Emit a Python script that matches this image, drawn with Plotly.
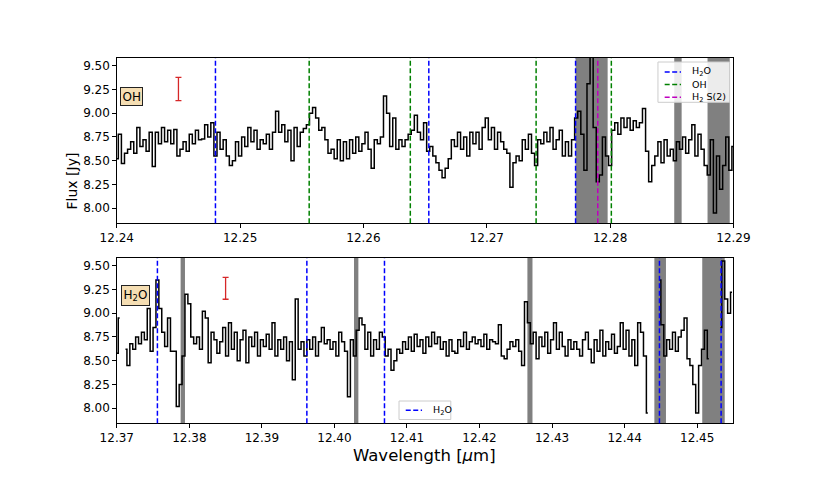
import plotly.graph_objects as go

# ---------------- data ----------------
# top panel spectrum (uniform spectral grid)
top_wl_start = 12.24
top_wl_step = 0.00025
top_flux = [
    8.52, 8.78, 8.47, 8.58, 8.62, 8.70, 8.58, 8.85, 8.65, 8.72,
    8.60, 8.80, 8.44, 8.80, 8.68, 8.85, 8.70, 8.82, 8.68, 8.83,
    8.55, 8.62, 8.70, 8.60, 8.78, 8.68, 8.82, 8.72, 8.73, 8.88,
    8.75, 8.90, 8.55, 8.80, 8.62, 8.72, 8.55, 8.45, 8.50, 8.70,
    8.55, 8.75, 8.65, 8.85, 8.70, 8.82, 8.62, 8.72, 8.68, 8.78,
    8.62, 8.80, 9.02, 8.80, 8.88, 8.70, 8.82, 8.50, 8.85, 8.65,
    8.80, 8.84, 8.88, 9.00, 9.06, 8.95, 8.82, 8.85, 8.72, 8.58,
    8.62, 8.52, 8.72, 8.50,
    8.70, 8.52, 8.72, 8.58, 8.75, 8.60, 8.68, 8.80, 8.62, 8.42,
    8.72, 8.68, 8.75, 9.18, 9.00, 8.65, 8.95, 8.62, 8.72, 8.65,
    8.72, 8.78, 8.82, 8.98, 8.80, 8.72, 8.90, 8.60, 8.65, 8.55,
    8.48, 8.40, 8.32, 8.42, 8.52, 8.72, 8.65, 8.80, 8.62, 8.75,
    8.55, 8.80, 8.68, 8.80, 8.62, 8.85, 8.95, 8.72, 8.85, 8.62,
    8.80, 8.70, 8.62, 8.58, 8.22, 8.48, 8.55, 8.50, 8.72, 8.62,
    8.78, 8.58, 8.45, 8.72, 8.68, 8.80, 8.70, 8.85, 8.62, 8.72,
    8.82, 8.55,
    8.70, 8.55, 8.72, 8.95, 9.02, 8.78, 8.40, 9.31, 9.65, 8.85,
    8.28, 8.35, 8.75, 8.55, 8.45, 8.82, 8.90, 8.78, 8.95, 8.85,
    8.95, 8.82, 8.92, 8.85, 8.90, 9.05, 8.60, 8.28, 8.45, 8.55,
    8.70, 8.48, 8.72, 8.55, 8.62, 8.50, 8.70, 8.62, 8.75, 8.58,
    8.72, 8.88, 8.55, 8.78, 8.62, 8.45, 8.35, 8.72, 7.95, 8.55,
    8.20, 8.45, 8.75, 8.40, 8.65,
]

# bottom panel spectrum
bot_wl_start = 12.37
bot_wl_step = 0.0004
nan = None
bot_flux = [
    8.58, 8.95, nan, 8.62, 8.45, 8.68, 8.62, 8.75, 8.68, 8.80,
    8.72, 9.05, 8.60, 8.85, 9.35, 9.05, 8.80, 8.65, 8.95, 8.60,
    8.60, 8.02, 8.25, 8.55, 9.20, 9.10, 8.75, 8.68, 8.75, 8.62,
    9.02, 8.95, 8.48, 8.80, 8.72, 8.58, 8.70, 8.85, 8.55, 8.90,
    8.62, 8.80, 8.50, 8.72, 8.82, 8.48, 8.75, 8.65, 8.80, 8.55,
    8.72, 8.65, 8.78, 8.62, 8.90, 8.55, 8.72, 8.62, 8.75, 8.50,
    8.70, 8.30, 9.15, 8.62, 8.70, 8.55, 8.72, 8.62, 8.75, 8.55,
    8.70, 8.85, 8.68, 8.72, 8.62, 8.70, 8.55, 8.80, 8.70,
    8.60, 8.12, 8.72, 8.55, 8.82, 8.95, 8.88, 8.62, 8.80, 8.55,
    8.72, 8.62, 8.80, 8.75, 8.55, 8.62, 8.40, 8.50, 8.62, 8.58,
    8.70, 8.62, 8.75, 8.60, 8.78, 8.65, 8.72, 8.58, 8.75, 8.65,
    8.80, 8.68, 8.75, 8.62, 8.70, 8.55, 8.72, 8.60, 8.58, 8.72,
    8.65, 8.80, 8.62, 8.70, 8.75, 8.68, 8.72, 8.65, 8.78, 8.62,
    8.72, 8.70, 8.68, 8.88, 8.55, 8.52, 8.62, 8.70, 8.65, 8.72,
    8.60, 8.45, 9.12, 8.90, 8.68, 8.80, 8.52, 8.75, 8.65, 8.80,
    8.58, 8.72, 8.90, 8.62, 8.80,
    8.65, 8.55, 8.72, 8.62, 8.70, 8.62, 8.55, 8.72, 8.80, 8.62,
    8.48, 8.72, 8.60, 8.82, 8.55, 8.70, 8.62, 8.78, 8.58, 8.65,
    8.90, 8.62, 8.82, 8.55, 8.72, 8.45, 8.90, 8.80, 8.55, 7.95,
    nan, nan, nan, 9.35, 8.88, 8.55, 8.72, 8.62, 8.80, 8.60,
    8.75, 8.82, 8.95, 8.52, 8.45, 8.25, 7.95, 8.45, 8.62, 8.82,
    8.52, nan, nan, nan, 8.85, 9.55, 9.15, 9.00, 9.22,
]

# line identifications
top_h2o_lines = [12.2480, 12.2653, 12.2772]
top_oh_lines = [12.2556, 12.2638, 12.2740, 12.2801]
top_h2s2_lines = [12.2790]
bot_h2o_lines = [12.3756, 12.3962, 12.4069, 12.4448, 12.4533]

# masked (shaded) wavelength ranges
top_masks = [(12.2772, 12.2798), (12.2852, 12.2858), (12.2879, 12.2897)]
bot_masks = [(12.3788, 12.3794), (12.4027, 12.4033), (12.4266, 12.4273),
             (12.4441, 12.4457), (12.4507, 12.4538)]

# representative error bars
top_err = dict(wl=12.245, flux=9.255, err=0.123)
bot_err = dict(wl=12.385, flux=9.262, err=0.115)

top_xticks = [12.24, 12.25, 12.26, 12.27, 12.28, 12.29]
bot_xticks = [12.37, 12.38, 12.39, 12.40, 12.41, 12.42, 12.43, 12.44, 12.45]
yticks = [8.00, 8.25, 8.50, 8.75, 9.00, 9.25, 9.50]
y_range = [7.842, 9.581]
top_xrange = [12.24, 12.29]
bot_xrange = [12.37, 12.455]

panel_labels = ["OH", "H<sub>2</sub>O"]
top_legend_labels = ["H<sub>2</sub>O", "OH", "H<sub>2</sub> S(2)"]
bot_legend_labels = ["H<sub>2</sub>O"]

# ---------------- styles ----------------
FONT = "DejaVu Sans"
C_H2O = "#0000ff"
C_OH = "#008000"
C_H2 = "#bf00bf"
C_MASK = "#808080"
C_ERR = "#d62728"
DASH = "5px,2.5px"

W, H = 830, 485
OFF = 8  # page body margin in the browser


def px(x):
    return (x - OFF) / W


def py(y):
    return 1 - (y - OFF) / H


fig = go.Figure()

# spectra
fig.add_trace(go.Scatter(x0=top_wl_start, dx=top_wl_step, y=top_flux, mode="lines",
                         line=dict(color="black", width=1.5, shape="hvh"),
                         showlegend=False, xaxis="x", yaxis="y", hoverinfo="skip"))
fig.add_trace(go.Scatter(x0=bot_wl_start, dx=bot_wl_step, y=bot_flux, mode="lines",
                         line=dict(color="black", width=1.5, shape="hvh"),
                         connectgaps=False,
                         showlegend=False, xaxis="x2", yaxis="y2", hoverinfo="skip"))

# error bars
for e, xa, ya in [(top_err, "x", "y"), (bot_err, "x2", "y2")]:
    fig.add_trace(go.Scatter(x=[e["wl"]], y=[e["flux"]], mode="markers",
                             marker=dict(size=1, color=C_ERR, opacity=0),
                             error_y=dict(type="data", array=[e["err"]], color=C_ERR,
                                          thickness=1.3, width=3),
                             showlegend=False, xaxis=xa, yaxis=ya, hoverinfo="skip"))

shapes = []
for (a, b) in top_masks:
    shapes.append(dict(type="rect", xref="x", yref="y domain", x0=a, x1=b, y0=0, y1=1,
                       fillcolor=C_MASK, line=dict(width=0), layer="below"))
for (a, b) in bot_masks:
    shapes.append(dict(type="rect", xref="x2", yref="y2 domain", x0=a, x1=b, y0=0, y1=1,
                       fillcolor=C_MASK, line=dict(width=0), layer="below"))
for lines, col, xr, yr in [(top_h2o_lines, C_H2O, "x", "y domain"),
                           (top_oh_lines, C_OH, "x", "y domain"),
                           (top_h2s2_lines, C_H2, "x", "y domain"),
                           (bot_h2o_lines, C_H2O, "x2", "y2 domain")]:
    for w in lines:
        shapes.append(dict(type="line", xref=xr, yref=yr, x0=w, x1=w, y0=0, y1=1,
                           line=dict(color=col, width=1.5, dash=DASH), layer="above"))

annotations = []

# hand-drawn legends (matplotlib-like compact boxes)
def add_legend(box, rows, labels, colors):
    x0, x1, y0, y1 = box
    shapes.append(dict(type="rect", xref="paper", yref="paper",
                       x0=px(x0), x1=px(x1), y0=py(y1), y1=py(y0),
                       fillcolor="rgba(255,255,255,0.85)",
                       line=dict(color="#cccccc", width=1), layer="above"))
    for ry, lab, col in zip(rows, labels, colors):
        shapes.append(dict(type="line", xref="paper", yref="paper",
                           x0=px(x0 + 7), x1=px(x0 + 24), y0=py(ry), y1=py(ry),
                           line=dict(color=col, width=1.5, dash=DASH), layer="above"))
        annotations.append(dict(text=lab, xref="paper", yref="paper",
                                x=px(x0 + 33), y=py(ry), xanchor="left", yanchor="middle",
                                showarrow=False,
                                font=dict(family=FONT, size=9.5, color="black")))


add_legend((668, 742.7, 62, 102.3), [72.0, 84.6, 97.2], top_legend_labels,
           [C_H2O, C_OH, C_H2])
add_legend((398, 452, 401, 419.5), [410.3], bot_legend_labels, [C_H2O])

axis_common = dict(showline=True, mirror=True, linecolor="black", linewidth=1,
                   ticks="outside", ticklen=3.5, tickwidth=0.8, tickcolor="black",
                   showgrid=False, zeroline=False,
                   tickfont=dict(family=FONT, size=12, color="black"))

annotations += [
    dict(text=panel_labels[0], xref="paper", yref="paper", x=px(119), y=py(96.9),
         xanchor="center", yanchor="middle",
         showarrow=False, font=dict(family=FONT, size=12, color="black"),
         bgcolor="#f5deb3", bordercolor="#222222", borderwidth=1, borderpad=1.5),
    dict(text=panel_labels[1], xref="paper", yref="paper", x=px(123.2), y=py(295.8),
         xanchor="center", yanchor="middle",
         showarrow=False, font=dict(family=FONT, size=12, color="black"),
         bgcolor="#f5deb3", bordercolor="#222222", borderwidth=1, borderpad=1.5),
    dict(text="Flux [Jy]", xref="paper", yref="paper", x=px(57.5), y=py(181),
         xanchor="center", yanchor="middle",
         textangle=-90, showarrow=False, font=dict(family=FONT, size=14, color="black")),
    dict(text="Wavelength [<i>μ</i>m]", xref="paper", yref="paper", x=px(425), y=py(455),
         xanchor="center", yanchor="middle",
         showarrow=False, font=dict(family=FONT, size=16.5, color="black")),
]

fig.update_layout(
    width=W, height=H,
    margin=dict(l=0, r=0, t=0, b=0),
    paper_bgcolor="white", plot_bgcolor="white",
    font=dict(family=FONT, color="black"),
    showlegend=False,
    xaxis=dict(domain=[px(103.7), px(746.7)], range=top_xrange, tickvals=top_xticks,
               tickformat=".2f", anchor="y", **axis_common),
    yaxis=dict(domain=[py(223.3), py(58)], range=y_range, tickvals=yticks,
               tickformat=".2f", anchor="x", **axis_common),
    xaxis2=dict(domain=[px(103.7), px(746.7)], range=bot_xrange, tickvals=bot_xticks,
                tickformat=".2f", anchor="y2", **axis_common),
    yaxis2=dict(domain=[py(423.3), py(258)], range=y_range, tickvals=yticks,
                tickformat=".2f", anchor="x2", **axis_common),
    shapes=shapes,
    annotations=annotations,
)

fig.write_html("out.html")
